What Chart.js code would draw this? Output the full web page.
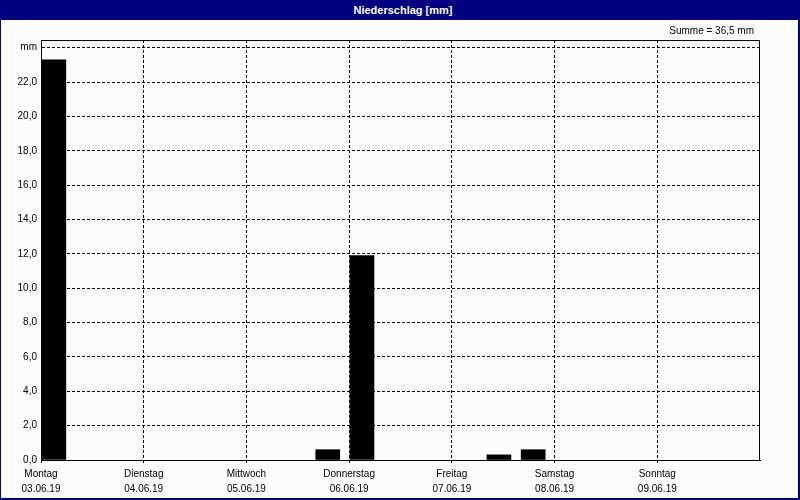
<!DOCTYPE html>
<html>
<head>
<meta charset="utf-8">
<script src="https://cdn.jsdelivr.net/npm/chart.js@4.4.0/dist/chart.umd.min.js"></script>
<style>
html,body{margin:0;padding:0;background:#fafdfa;}
#wrap{position:relative;width:800px;height:500px;box-sizing:border-box;border-left:1px solid #000080;border-right:2px solid #000080;border-bottom:2px solid #000080;background:#fafdfa;overflow:hidden;font-family:"Liberation Sans",Arial,sans-serif;}
#title{position:absolute;left:-1px;top:0;width:806px;height:20px;background:#000080;color:#fff;font-weight:bold;font-size:11px;line-height:20px;text-align:center;}
#sum{position:absolute;right:44px;top:25px;font-size:10px;line-height:12px;color:#000;}
canvas{position:absolute;left:-1px;top:0;}
</style>
</head>
<body>
<div id="wrap">
  <canvas id="c" width="800" height="500"></canvas>
  <div id="title">Niederschlag [mm]</div>
  <div id="sum">Summe = 36,5 mm</div>
</div>
<script>
// ---- data ----
const dayNames = ['Montag','Dienstag','Mittwoch','Donnerstag','Freitag','Samstag','Sonntag'];
const dayDates = ['03.06.19','04.06.19','05.06.19','06.06.19','07.06.19','08.06.19','09.06.19'];
const binStartHours = [0, 64, 72, 104, 112];        // start of 8-hour period (hours since Mo 00:00)
const precipitation = [23.3, 0.6, 11.9, 0.3, 0.6];  // mm
const yTickValues = [0,2,4,6,8,10,12,14,16,18,20,22,24];
const unitLabel = 'mm';

// ---- styling ----
const FONT = '"Liberation Sans", Arial, sans-serif';
const BAR_OFFSET_H = 3;   // bar drawn in the first part of its 8h period

const borderPlugin = {
  id: 'plotBorder',
  afterDraw(chart) {
    const {ctx, chartArea: a} = chart;
    ctx.save();
    ctx.strokeStyle = '#000';
    ctx.lineWidth = 1;
    ctx.beginPath();
    const t = Math.round(a.top) + 0.5, r = Math.round(a.right) - 0.5;
    ctx.moveTo(Math.round(a.left), t);
    ctx.lineTo(r, t);
    ctx.lineTo(r, Math.round(a.bottom));
    ctx.stroke();
    ctx.restore();
  }
};

new Chart(document.getElementById('c'), {
  type: 'bar',
  data: {
    datasets: [{
      data: binStartHours.map((h, i) => ({x: h + BAR_OFFSET_H, y: precipitation[i]})),
      backgroundColor: '#000',
      borderWidth: 0,
      barThickness: 24
    }]
  },
  options: {
    responsive: false,
    animation: false,
    layout: {padding: {top: 40, right: 40, left: 0, bottom: 0}},
    plugins: {legend: {display: false}, tooltip: {enabled: false}, title: {display: false}},
    scales: {
      x: {
        type: 'linear',
        min: 0, max: 168,
        offset: false,
        grid: {offset: false, color: '#000', lineWidth: 1, tickLength: 3, drawTicks: true},
        border: {display: true, color: '#000', width: 1, dash: [3, 2]},
        afterBuildTicks: s => { s.ticks = dayNames.map((d, i) => ({value: i * 24})); },
        ticks: {
          autoSkip: false, maxRotation: 0, minRotation: 0, padding: 4, color: '#000',
          font: {family: FONT, size: 10, lineHeight: 1.5},
          callback: v => { const i = Math.round(v / 24); return i < 7 ? [dayNames[i], dayDates[i]] : ''; }
        },
        afterFit: s => { s.height = 40; }
      },
      y: {
        type: 'linear',
        min: 0, max: 24.45,
        grid: {color: '#000', lineWidth: 1, drawTicks: false},
        border: {display: true, color: '#000', width: 1, dash: [3, 2]},
        afterBuildTicks: s => { s.ticks = yTickValues.map(v => ({value: v})); },
        ticks: {
          padding: 4, color: '#000',
          font: {family: FONT, size: 10},
          callback: v => v === 24 ? unitLabel : v.toFixed(1).replace('.', ',')
        },
        afterFit: s => { s.width = 41; }
      }
    }
  },
  plugins: [borderPlugin]
});
</script>
</body>
</html>
